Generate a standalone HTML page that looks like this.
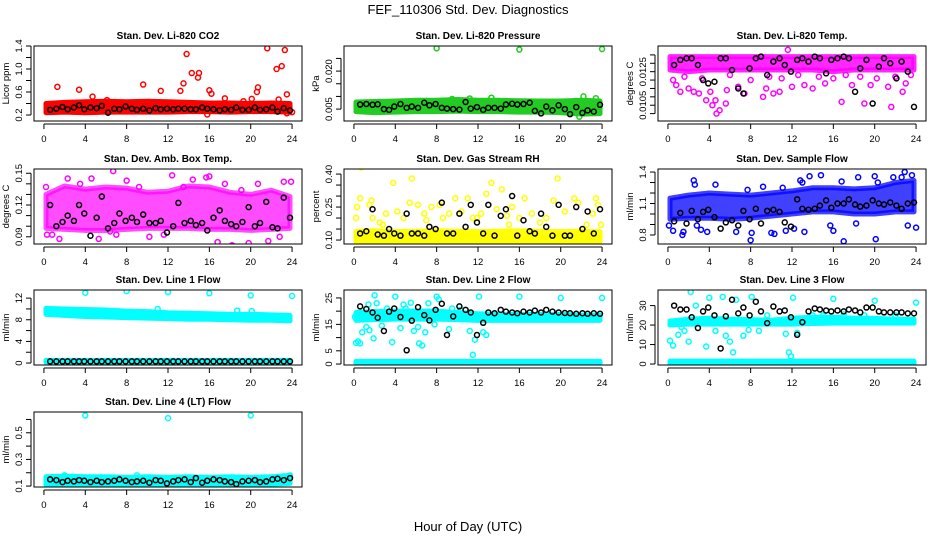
<!DOCTYPE html>
<html><head><meta charset="utf-8">
<style>
html,body{margin:0;padding:0;background:#fff;}
svg{display:block;font-family:"Liberation Sans",Arial,sans-serif;}
</style></head>
<body>
<svg id="chart" width="936" height="540" viewBox="0 0 936 540" xmlns="http://www.w3.org/2000/svg">
<rect width="936" height="540" fill="#fff"/>
<text x="468" y="14" text-anchor="middle" font-size="13">FEF_110306  Std. Dev. Diagnostics</text>
<text x="468" y="531" text-anchor="middle" font-size="13">Hour of Day (UTC)</text>
</svg>
<script>
// shared x data
const xTicks = [0,4,8,12,16,20,24];
const bandHours = [0.2,2,4,6,8,10,12,14,16,18,20,22,23.8];
const blkHours = [0.6,1.2,1.8,2.3,2.9,3.4,3.9,4.5,5.1,5.6,6.2,6.8,7.3,7.9,8.5,9.0,9.6,10.2,10.8,11.3,11.9,12.5,13.0,13.6,14.2,14.7,15.3,15.8,16.4,17.0,17.5,18.1,18.6,19.2,19.8,20.4,20.9,21.5,22.1,22.6,23.2,23.8];

// Panel 1: CO2
const co2BandLo = [0.24,0.25,0.24,0.25,0.25,0.25,0.25,0.26,0.26,0.25,0.26,0.26,0.25];
const co2BandHi = [0.40,0.42,0.43,0.44,0.43,0.44,0.43,0.42,0.41,0.41,0.40,0.41,0.40];
const co2PtsX = [1.3,3.4,4.7,6.1,9.6,11.3,13.2,13.5,13.8,14.3,14.9,15.0,16.0,16.2,17.5,19.3,20.1,20.6,20.7,21.6,22.5,22.7,23.0,23.3,23.5,15.8,23.5,24];
const co2PtsY = [0.69,0.64,0.52,0.46,0.73,0.62,0.62,0.75,1.26,0.93,0.85,0.93,0.63,0.57,0.49,0.44,0.48,0.60,0.68,1.36,1.00,0.47,1.05,1.33,0.56,0.21,0.23,0.25];
const co2Blk = [0.29,0.31,0.34,0.30,0.33,0.37,0.30,0.33,0.32,0.36,0.24,0.31,0.30,0.35,0.31,0.29,0.31,0.28,0.32,0.30,0.31,0.30,0.31,0.31,0.30,0.30,0.33,0.31,0.30,0.28,0.30,0.29,0.33,0.29,0.29,0.33,0.29,0.30,0.33,0.26,0.32,0.28];
const co2Ticks = [0.2,0.4,0.6,0.8,1.0,1.2,1.4];
const co2Labels = ["0.2","0.6","1.0","1.4"];

// Panel 2: Pressure
const presBandLo = [0.0040,0.0036,0.0038,0.0040,0.0040,0.0042,0.0040,0.0040,0.0038,0.0038,0.0036,0.0030,0.0032];
const presBandHi = [0.0078,0.0080,0.0082,0.0085,0.0085,0.0088,0.0085,0.0085,0.0083,0.0082,0.0082,0.0085,0.0082];
const presPtsX = [8,16,24,13.3,22.2,21.8,23.4,11.2,9.5];
const presPtsY = [0.0290,0.0285,0.0287,0.0095,0.0100,0.0020,0.0093,0.0092,0.0090];
const presBlk = [0.0068,0.0070,0.0067,0.0069,0.0050,0.0047,0.0060,0.0070,0.0055,0.0060,0.0055,0.0075,0.0065,0.0070,0.0055,0.0052,0.0050,0.0048,0.0078,0.0052,0.0058,0.0047,0.0055,0.0055,0.0052,0.0068,0.0071,0.0068,0.0070,0.0075,0.0043,0.0033,0.0060,0.0045,0.0065,0.0050,0.0030,0.0058,0.0035,0.0045,0.0040,0.0067];
const presTicks = [0.005,0.010,0.015,0.020,0.025];
const presLabels = ["0.005","0.020"];

// Panel 3: Li-820 temp
const ltBandLo = [0.0126,0.0125,0.0126,0.0126,0.0126,0.0126,0.0126,0.0126,0.0125,0.0126,0.0126,0.0126,0.0126];
const ltBandHi = [0.0134,0.0134,0.0134,0.0134,0.0134,0.0134,0.0134,0.0134,0.0134,0.0134,0.0134,0.0134,0.0134];
const ltPtsX = [0.5,0.8,1.2,2.0,2.5,3.0,3.7,4.1,4.3,4.6,4.7,5.0,5.6,5.7,6.8,7.4,9.2,9.5,10.2,10.8,11.6,12.0,13.2,14.0,15.2,16.8,17.8,19.0,19.6,21.3,21.6,22.7,23.0,1.6,3.3,6.0,8.0,9.8,11.0,12.6,14.6,16.0,17.2,18.6,20.2,22.0,23.5];
const ltPtsY = [0.0120,0.0117,0.0113,0.0115,0.0113,0.0112,0.0108,0.0113,0.0105,0.0108,0.0100,0.0102,0.0106,0.0114,0.0116,0.0112,0.0110,0.0115,0.0112,0.0113,0.0138,0.0116,0.0117,0.0115,0.0118,0.0107,0.0117,0.0106,0.0117,0.0116,0.0104,0.0113,0.0118,0.0122,0.0121,0.0123,0.0120,0.0122,0.0121,0.0123,0.0122,0.0121,0.0123,0.0122,0.0121,0.0122,0.0123];
const ltBlk = [0.0129,0.0132,0.0133,0.0133,0.0129,0.0120,0.0118,0.0119,0.0133,0.0133,0.0126,0.0115,0.0112,0.0127,0.0133,0.0134,0.0123,0.0131,0.0133,0.0129,0.0125,0.0132,0.0133,0.0131,0.0134,0.0133,0.0124,0.0132,0.0133,0.0134,0.0133,0.0113,0.0127,0.0132,0.0106,0.0128,0.0133,0.0130,0.0121,0.0131,0.0125,0.0104];
const ltTicks = [0.0100,0.0105,0.0110,0.0115,0.0120,0.0125,0.0130,0.0135];
const ltLabels = ["0.0105","0.0125"];

// Panel 4: Amb box temp
const abBandLo = [0.098,0.097,0.096,0.096,0.097,0.098,0.098,0.098,0.097,0.097,0.096,0.097,0.098];
const abBandHi = [0.130,0.138,0.135,0.137,0.136,0.132,0.133,0.138,0.137,0.132,0.130,0.134,0.128];
const abPtsX = [0.2,0.3,0.8,1.5,2.3,3.5,4.6,5.3,6.7,7.0,8.0,9.2,10.2,11.6,12.4,13.5,14.4,15.7,16.0,16.8,17.5,18.2,19.1,19.8,20.7,21.7,22.8,23.2,23.9,6.4];
const abPtsY = [0.137,0.092,0.092,0.088,0.145,0.140,0.145,0.088,0.152,0.092,0.143,0.137,0.090,0.092,0.148,0.137,0.144,0.146,0.147,0.085,0.140,0.082,0.134,0.084,0.140,0.086,0.090,0.142,0.142,0.095];
const abBlk = [0.120,0.100,0.104,0.110,0.105,0.120,0.112,0.091,0.108,0.128,0.098,0.103,0.112,0.105,0.108,0.104,0.111,0.103,0.103,0.105,0.094,0.100,0.122,0.103,0.105,0.101,0.103,0.096,0.108,0.115,0.105,0.102,0.100,0.104,0.118,0.100,0.103,0.123,0.099,0.098,0.127,0.108];
const abTicks = [0.09,0.10,0.11,0.12,0.13,0.14,0.15];
const abLabels = ["0.09","0.12","0.15"];

// Panel 5: Gas stream RH
const rhBandLo = [0.092,0.092,0.093,0.092,0.092,0.093,0.092,0.092,0.093,0.092,0.092,0.093,0.092];
const rhBandHi = [0.140,0.142,0.138,0.140,0.142,0.140,0.138,0.140,0.142,0.140,0.138,0.140,0.138];
const rhPtsX = [0.2,0.3,0.6,0.7,1.5,1.7,1.8,2.5,3.1,3.8,4.2,4.8,5.4,5.6,6.2,6.8,7.5,8.3,8.6,9.2,9.8,10.4,11.0,11.5,12.3,12.8,13.3,13.8,14.3,14.8,15.3,16.0,16.5,17.2,18.0,18.6,19.3,19.7,20.4,21.3,21.7,22.5,23.1,23.4,23.6,23.9,11.9,2.8,7.0,15.0];
const rhPtsY = [0.20,0.25,0.29,0.43,0.26,0.28,0.20,0.18,0.22,0.36,0.23,0.20,0.27,0.38,0.26,0.22,0.25,0.26,0.20,0.22,0.29,0.23,0.29,0.20,0.22,0.31,0.36,0.24,0.33,0.21,0.25,0.20,0.29,0.22,0.18,0.20,0.28,0.38,0.23,0.29,0.27,0.17,0.22,0.29,0.26,0.17,0.20,0.17,0.19,0.17];
const rhBlk = [0.13,0.14,0.24,0.125,0.12,0.15,0.13,0.12,0.22,0.13,0.13,0.12,0.16,0.15,0.27,0.13,0.13,0.22,0.16,0.26,0.18,0.13,0.26,0.12,0.21,0.24,0.30,0.12,0.19,0.14,0.13,0.22,0.16,0.12,0.26,0.12,0.12,0.25,0.15,0.23,0.13,0.24];
const rhTicks = [0.10,0.15,0.20,0.25,0.30,0.35,0.40];
const rhLabels = ["0.10","0.25","0.40"];

// Panel 6: Sample flow
const sfBandLo = [0.95,0.96,0.96,0.95,0.96,0.98,1.00,1.02,1.02,1.00,1.00,1.02,1.02];
const sfBandHi = [1.15,1.18,1.20,1.19,1.18,1.20,1.22,1.25,1.25,1.24,1.25,1.30,1.32];
const sfPtsX = [0.1,0.5,1.4,1.5,2.5,2.6,2.8,3.2,3.8,4.6,6.6,8.0,8.1,10.0,10.3,11.4,12.2,12.8,13.0,13.2,13.7,14.8,15.7,16.0,16.8,17.0,18.2,18.4,20.0,20.1,20.3,21.8,22.6,22.9,23.2,23.6,24.0,7.7,9.2,11.1];
const sfPtsY = [0.89,0.84,0.80,0.83,1.32,1.28,0.89,0.85,0.83,1.28,0.83,0.75,0.82,0.82,0.81,0.84,0.86,1.32,1.30,0.83,1.36,1.37,0.89,0.84,1.31,0.74,0.91,1.35,1.36,0.76,1.30,1.35,1.35,1.40,0.89,1.37,0.87,1.23,1.26,1.25];
const sfBlk = [0.93,1.01,0.91,1.03,0.95,1.02,1.04,0.97,0.86,0.92,0.94,0.89,1.03,0.95,1.05,0.91,1.03,1.04,1.02,0.92,0.88,1.14,1.05,1.04,1.05,1.08,1.13,1.06,1.10,1.10,1.14,1.09,1.07,1.08,1.13,1.10,1.09,1.11,1.08,1.05,1.10,1.11];
const sfTicks = [0.8,0.9,1.0,1.1,1.2,1.3,1.4];
const sfLabels = ["0.8","1.1","1.4"];

// Panel 7: Line 1 flow
const l1BandLo = [9.0,8.8,8.6,8.5,8.4,8.3,8.2,8.1,8.1,8.0,7.9,7.9,7.8];
const l1BandHi = [10.1,10.0,9.9,9.8,9.6,9.5,9.3,9.2,9.1,9.0,9.0,8.9,8.8];
const l1Band2Lo = [0.15,0.15,0.15,0.15,0.15,0.15,0.15,0.15,0.15,0.15,0.15,0.15,0.15];
const l1Band2Hi = [0.5,0.5,0.5,0.5,0.5,0.5,0.5,0.5,0.5,0.5,0.5,0.5,0.5];
const l1PtsX = [4,8,12,16,20,24,11.0,18.7,20.1];
const l1PtsY = [13.0,13.3,13.1,12.9,12.5,12.4,10.0,9.7,9.6];
const l1Blk = [0.3,0.3,0.3,0.3,0.3,0.3,0.3,0.3,0.3,0.3,0.3,0.3,0.3,0.3,0.3,0.3,0.3,0.3,0.3,0.3,0.3,0.3,0.3,0.3,0.3,0.3,0.3,0.3,0.3,0.3,0.3,0.3,0.3,0.3,0.3,0.3,0.3,0.3,0.3,0.3,0.3,0.3];
const l1Ticks = [0,2,4,6,8,10,12];
const l1Labels = ["0","4","8","12"];

// Panel 8: Line 2 flow
const l2BandLo = [16.5,16.8,17,17,17,16.8,16.5,16.5,16.5,16.5,16.5,16.5,16.5];
const l2BandHi = [19.5,19.8,20,20,20,19.5,19,18.8,18.8,18.8,18.8,18.5,18.5];
const l2Band2Lo = [0.3,0.3,0.3,0.3,0.3,0.3,0.3,0.3,0.3,0.3,0.3,0.3,0.3];
const l2Band2Hi = [1.0,1.0,1.0,1.0,1.0,1.0,1.0,1.0,1.0,1.0,1.0,1.0,1.0];
const l2PtsX = [0.1,0.2,0.4,0.6,0.8,1.2,1.5,1.4,2.0,2.2,1.9,2.7,3.7,4.0,4.5,4.8,5.5,5.8,6.2,6.3,6.6,6.9,7.2,7.8,8.0,8.2,9.2,10.3,11.2,11.5,11.7,12.1,12.5,12.8,16,20,24,3.2,5,9.5];
const l2PtsY = [17.8,8,8.5,7.8,12,14,12.8,22.5,26,23,9.7,14.5,8.3,25.5,13.6,22.5,23.2,12.5,14,7.8,7,12,23,15,25.5,24.5,13.2,20.5,12.5,3.5,9.2,25.5,12,11,25.5,25,25,21,21,21];
const l2Blk = [21.8,20.8,19.5,17.5,12.5,19.8,21,17.8,5.2,16.4,21.5,18.5,16.5,20.5,22.8,11,18,21.8,20.5,19.5,11,15.6,19.5,19.2,20.5,19.8,19.5,19.2,19.8,19.5,20.2,19.5,20.5,19.8,19.5,19.3,19.2,19.0,19.2,19.0,19.2,19.0];
const l2Ticks = [0,5,10,15,20,25];
const l2Labels = ["0","5","15","25"];

// Panel 9: Line 3 flow
const l3BandLo = [20,20.5,20.5,20.5,20.5,20.5,20.5,20.8,21,21,21,21,21];
const l3BandHi = [22,23,23.5,23,22.8,22.5,23.5,24,24,23.5,23.5,23,23];
const l3Band2Lo = [0.3,0.3,0.3,0.3,0.3,0.3,0.3,0.3,0.3,0.3,0.3,0.3,0.3];
const l3Band2Hi = [1.5,1.5,1.5,1.5,1.5,1.5,1.5,1.5,1.5,1.5,1.5,1.5,1.5];
const l3PtsX = [0.2,0.5,1.0,1.3,1.6,2.0,2.2,2.7,3.7,4.0,4.6,5.3,5.6,6.0,6.3,6.6,7.3,7.8,8.1,8.8,9.6,11.4,11.7,11.9,12.1,12.5,16,20,24,14,17,19,22,15];
const l3PtsY = [12,9.5,15,19,17,11.5,37,30,9,34,17,34.5,14.5,11.5,6,33,14.5,17.5,34.5,17,25,15.5,6,4,34,16,33.5,32.5,31.5,25,25.5,25,25,25];
const l3Blk = [30,28,28,24,18.5,27,29,25,8,24.5,33,26,29,25,32,27,21,29.5,27,27.5,24,15,21.5,27,28.5,28,27.5,27,27.5,27,28,27.5,26.5,29,29,27,26.5,26.5,26.5,26.5,26,26];
const l3Ticks = [0,10,20,30];
const l3Labels = ["0","10","20","30"];

// Panel 10: Line 4 (LT) flow
const l4BandLo = [0.11,0.11,0.115,0.11,0.11,0.11,0.11,0.11,0.115,0.11,0.11,0.115,0.12];
const l4BandHi = [0.17,0.175,0.17,0.17,0.165,0.17,0.165,0.17,0.165,0.17,0.165,0.17,0.18];
const l4PtsX = [4,12,20,2,9,23.8];
const l4PtsY = [0.63,0.61,0.63,0.18,0.18,0.18];
const l4Blk = [0.15,0.145,0.13,0.14,0.135,0.145,0.14,0.13,0.14,0.13,0.135,0.14,0.15,0.14,0.13,0.135,0.14,0.125,0.145,0.14,0.12,0.135,0.145,0.15,0.13,0.16,0.125,0.14,0.15,0.145,0.135,0.13,0.115,0.135,0.14,0.145,0.13,0.135,0.15,0.155,0.145,0.16];
const l4Ticks = [0.1,0.2,0.3,0.4,0.5,0.6];
const l4Labels = ["0.1","0.3","0.5"];

const NS = "http://www.w3.org/2000/svg";
const svg = document.getElementById('chart');
const colX = [34,344,658];
const rowY = [46,169,290,412];
const W = 268, H = 75;

const panels = [
 {name:'co2',title:'Stan. Dev. Li-820 CO2',ylab:'Licor ppm',col:0,row:0,ylim:[0.096,1.4],color:'#ff0000',op:1,bands:[[co2BandLo,co2BandHi]],px:co2PtsX,py:co2PtsY,blk:co2Blk,ticks:co2Ticks,labels:co2Labels},
 {name:'pressure',title:'Stan. Dev. Li-820 Pressure',ylab:'kPa',col:1,row:0,ylim:[0.0003,0.0299],color:'#22cc22',op:1,bands:[[presBandLo,presBandHi]],px:presPtsX,py:presPtsY,blk:presBlk,ticks:presTicks,labels:presLabels},
 {name:'li-temp',title:'Stan. Dev. Li-820 Temp.',ylab:'degrees C',col:2,row:0,ylim:[0.00956,0.01403],color:'#ff00ff',op:0.85,bands:[[ltBandLo,ltBandHi]],px:ltPtsX,py:ltPtsY,blk:ltBlk,ticks:ltTicks,labels:ltLabels},
 {name:'amb-box-temp',title:'Stan. Dev. Amb. Box Temp.',ylab:'degrees C',col:0,row:1,ylim:[0.0832,0.154],color:'#ff00ff',op:0.7,bands:[[abBandLo,abBandHi]],px:abPtsX,py:abPtsY,blk:abBlk,ticks:abTicks,labels:abLabels},
 {name:'gas-rh',title:'Stan. Dev. Gas Stream RH',ylab:'percent',col:1,row:1,ylim:[0.082,0.423],color:'#ffff00',op:1,bands:[[rhBandLo,rhBandHi]],px:rhPtsX,py:rhPtsY,blk:rhBlk,ticks:rhTicks,labels:rhLabels},
 {name:'sample-flow',title:'Stan. Dev. Sample Flow',ylab:'ml/min',col:2,row:1,ylim:[0.714,1.429],color:'#0000ff',op:0.75,bands:[[sfBandLo,sfBandHi]],px:sfPtsX,py:sfPtsY,blk:sfBlk,ticks:sfTicks,labels:sfLabels},
 {name:'line1-flow',title:'Stan. Dev. Line 1 Flow',ylab:'ml/min',col:0,row:2,ylim:[-0.36,13.5],color:'#00ffff',op:1,bands:[[l1BandLo,l1BandHi],[l1Band2Lo,l1Band2Hi]],px:l1PtsX,py:l1PtsY,blk:l1Blk,ticks:l1Ticks,labels:l1Labels},
 {name:'line2-flow',title:'Stan. Dev. Line 2 Flow',ylab:'ml/min',col:1,row:2,ylim:[-0.37,28],color:'#00ffff',op:1,bands:[[l2BandLo,l2BandHi],[l2Band2Lo,l2Band2Hi]],px:l2PtsX,py:l2PtsY,blk:l2Blk,ticks:l2Ticks,labels:l2Labels},
 {name:'line3-flow',title:'Stan. Dev. Line 3 Flow',ylab:'ml/min',col:2,row:2,ylim:[-0.5,38],color:'#00ffff',op:1,bands:[[l3BandLo,l3BandHi],[l3Band2Lo,l3Band2Hi]],px:l3PtsX,py:l3PtsY,blk:l3Blk,ticks:l3Ticks,labels:l3Labels},
 {name:'line4-flow',title:'Stan. Dev. Line 4 (LT) Flow',ylab:'ml/min',col:0,row:3,ylim:[0.093,0.656],color:'#00ffff',op:1,bands:[[l4BandLo,l4BandHi]],px:l4PtsX,py:l4PtsY,blk:l4Blk,ticks:l4Ticks,labels:l4Labels}
];

function mk(tag, attrs, parent){
  const e = document.createElementNS(NS, tag);
  for (const k in attrs) e.setAttribute(k, attrs[k]);
  parent.appendChild(e);
  return e;
}

panels.forEach(p => {
  const x0 = colX[p.col], y0 = rowY[p.row];
  const xs = v => x0 + W*(0.04*24 + v)/(24*1.08);
  const ys = v => y0 + H - H*(v - p.ylim[0])/(p.ylim[1]-p.ylim[0]);
  const g = mk('g', {}, svg);
  
  
  const clipId = 'clip-' + p.name;
  const cp = mk('clipPath', {id: clipId}, g);
  mk('rect', {x:x0, y:y0, width:W, height:H}, cp);
  const plot = mk('g', {'clip-path':'url(#'+clipId+')'}, g);
  p.bands.forEach((b, bi) => {
    const lo = b[0], hi = b[1];
    let pts = bandHours.map((h,i) => xs(h)+','+ys(hi[i]));
    pts = pts.concat(bandHours.map((h,i) => xs(h)+','+ys(lo[i])).reverse());
    const poly = mk('polygon', {points: pts.join(' '), fill: p.color, 'fill-opacity': p.op, stroke: p.color, 'stroke-opacity': p.op, 'stroke-width': 5, 'stroke-linejoin':'round'}, plot);
    
    
  });
  p.px.forEach((xv, i) => {
    const c = mk('circle', {cx: xs(xv), cy: ys(p.py[i]), r: 2.5, fill:'none', stroke: p.color, 'stroke-width': 1.5}, plot);
    
    
  });
  blkHours.forEach((h, i) => {
    const c = mk('circle', {cx: xs(h), cy: ys(p.blk[i]), r: 2.5, fill:'none', stroke:'#000', 'stroke-width': 1.5}, plot);
    
    
  });
  const box = mk('rect', {x:x0, y:y0, width:W, height:H, fill:'none', stroke:'#000', 'stroke-width':1}, g);
  
  
  const t = mk('text', {x: x0 + W/2, y: y0 - 7, 'text-anchor':'middle', 'font-size':10, 'font-weight':'bold'}, g);
  t.textContent = p.title;
  
  
  xTicks.forEach(v => {
    mk('line', {x1: xs(v), x2: xs(v), y1: y0+H+3, y2: y0+H+8, stroke:'#000', 'stroke-width':1}, g);
    const tl = mk('text', {x: xs(v), y: y0+H+21, 'text-anchor':'middle', 'font-size':9.5}, g);
    tl.textContent = v;
    
    
  });
  mk('line', {x1: xs(0), x2: xs(24), y1: y0+H+3, y2: y0+H+3, stroke:'#000', 'stroke-width':1}, g);
  const tv = p.ticks.filter(v => v >= p.ylim[0]-1e-9 && v <= p.ylim[1]+1e-9);
  mk('line', {x1: x0-3, x2: x0-3, y1: ys(tv[0]), y2: ys(tv[tv.length-1]), stroke:'#000', 'stroke-width':1}, g);
  tv.forEach(v => {
    mk('line', {x1: x0-8, x2: x0-3, y1: ys(v), y2: ys(v), stroke:'#000', 'stroke-width':1}, g);
  });
  p.labels.forEach(s => {
    const v = parseFloat(s);
    const yy = ys(v);
    const tl = mk('text', {x: x0-12, y: yy, 'text-anchor':'middle', 'font-size':9.5, transform:'rotate(-90 '+(x0-12)+' '+yy+')'}, g);
    tl.textContent = s;
    
    
  });
  const yl = mk('text', {x: x0-25, y: y0+H/2, 'text-anchor':'middle', 'font-size':9.5, transform:'rotate(-90 '+(x0-25)+' '+(y0+H/2)+')'}, g);
  yl.textContent = p.ylab;
  
  
});
</script>
</body></html>
